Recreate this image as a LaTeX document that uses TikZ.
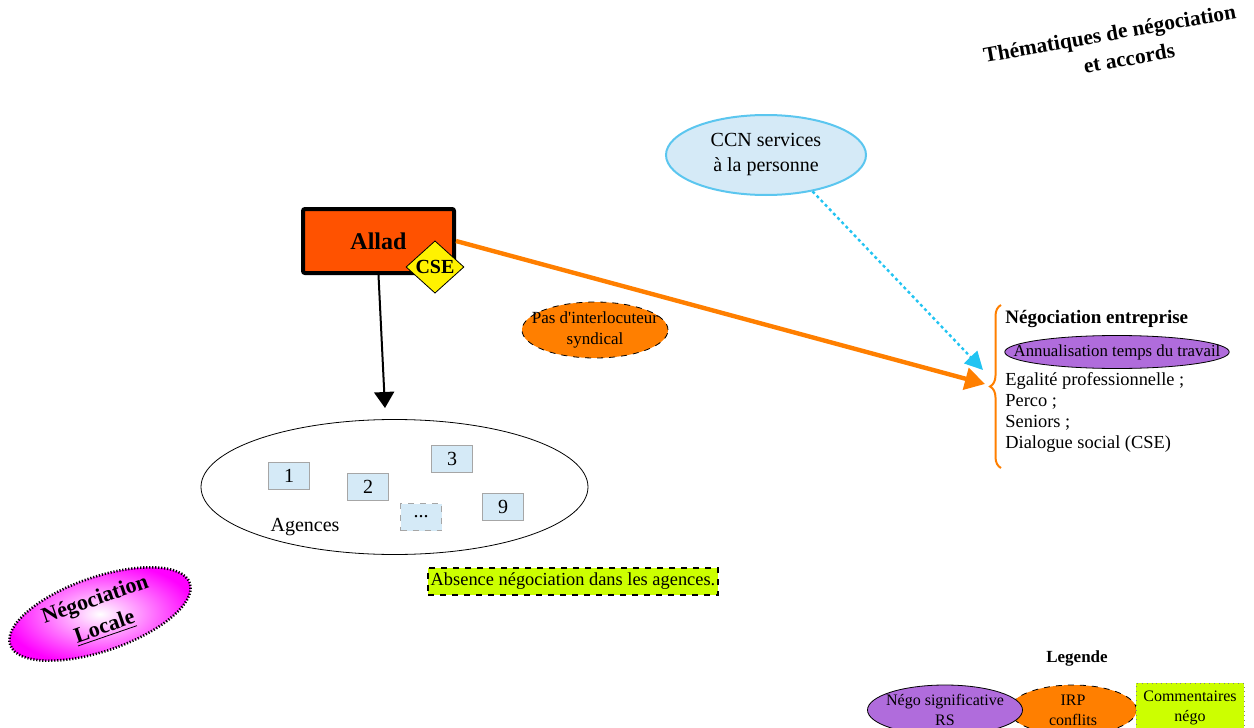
\documentclass[tikz,border=0pt]{standalone}
\usepackage{fontspec}
\setmainfont{Liberation Serif}
\usepackage{xcolor}
\usetikzlibrary{arrows.meta,shapes,positioning,calc,decorations.pathreplacing}

\definecolor{alladred}{HTML}{FF5200}
\definecolor{irporange}{HTML}{FF7F00}
\definecolor{negopurple}{HTML}{B06CDC}
\definecolor{skyfill}{HTML}{D5EAF7}
\definecolor{skyline}{HTML}{5BC6EF}
\definecolor{cyanarrow}{HTML}{22C4F2}
\definecolor{comgreen}{HTML}{CCFF00}

\begin{document}
\begin{tikzpicture}[x=0.5pt,y=-0.5pt,>=Stealth,
  agence/.style={draw=gray!70,fill=skyfill,minimum width=20.5pt,minimum height=13.5pt,inner sep=0pt,font=\fontsize{10}{12}\selectfont},
  nego/.style={ellipse,draw,fill=negopurple,inner sep=0pt,font=\fontsize{8}{10}\selectfont,align=center},
  irp/.style={ellipse,draw,dashed,fill=irporange,inner sep=0pt,font=\fontsize{8}{10}\selectfont,align=center},
  comment/.style={draw,dashed,fill=comgreen,inner sep=1pt,font=\fontsize{8}{10}\selectfont,align=center}]
\useasboundingbox (0,0) rectangle (1254,728);

\node[rotate=10,align=center,font=\fontsize{10.7}{14}\selectfont\bfseries] (titre) at (1112,47) {Thématiques de négociation\\\hspace*{1.4em}et accords};

\node[ellipse,draw=skyline,line width=1pt,fill=skyfill,minimum width=100pt,minimum height=40pt,align=center,font=\fontsize{10}{12.5}\selectfont] (ccn) at (766,155) {CCN services\\à la personne};

\node[draw,line width=2pt,rounded corners=1pt,fill=alladred,minimum width=75.5pt,minimum height=32pt,font=\fontsize{12}{14}\selectfont\bfseries] (allad) at (378.5,241) {Allad};
\node[diamond,draw,fill=yellow,minimum width=29pt,minimum height=25pt,inner sep=0pt,font=\fontsize{10}{12}\selectfont\bfseries] (cse) at (435,267) {CSE};

\node[irp,inner xsep=-6.7pt,inner ysep=0.3pt,minimum width=73pt,minimum height=28pt,font=\fontsize{8.5}{10.5}\selectfont] (pas) at (595,330) {Pas d\textquotesingle interlocuteur\\syndical};

\node[ellipse,draw,fill=white,minimum width=193.5pt,minimum height=67.5pt] (agences) at (394.5,487) {};
\node[agence] (a1) at (289,476) {1};
\node[agence] (a2) at (368,487) {2};
\node[agence] (a3) at (452,459) {3};
\node[agence] (a9) at (503,507) {9};
\node[agence,dashed] (aetc) at (421,517) {...};
\node[font=\fontsize{10}{12}\selectfont] (lblag) at (305,527) {Agences};

\node[comment,line width=1pt,minimum width=145pt,minimum height=13.5pt,font=\fontsize{9.2}{11}\selectfont] (absence) at (573,581) {Absence négociation dans les agences.};

\node[ellipse,rotate=19,draw,line width=1.3pt,dash pattern=on 0.6pt off 0.9pt,inner color=white,outer color=magenta,minimum width=95pt,minimum height=37pt,inner sep=0pt,align=center,font=\fontsize{11}{14.5}\selectfont\bfseries] (locale) at (100,614) {Négociation\\\underline{Locale}};

\draw[irporange,line width=1pt,decorate,decoration={brace,amplitude=5.5pt}] (1001,468) -- (1001,305);
\coordinate (bracetip) at (985,384);
\coordinate (ccntip) at (983,370);
\coordinate (agtip) at (385,408);

\node[anchor=west,inner sep=0pt,font=\fontsize{9.5}{11}\selectfont\bfseries] (entreprise) at (1005,319) {Négociation entreprise};
\node[nego,inner xsep=-12pt,inner ysep=1.5pt,minimum width=111.5pt,minimum height=16.5pt,font=\fontsize{8.4}{10}\selectfont] (annu) at (1117,352) {Annualisation temps du travail};
\node[anchor=north west,inner sep=0pt,align=left,font=\fontsize{9.2}{10.6}\selectfont] (themes) at (1005,372) {Egalité professionnelle ;\\Perco ;\\Seniors ;\\Dialogue social (CSE)};

\draw[->,line width=1pt,>={Triangle[length=8pt,width=10pt]}] (allad.south) -- (agtip);
\draw[->,irporange,line width=2.2pt,>={Triangle[length=10pt,width=11pt]}] (allad.east) -- (bracetip);
\draw[->,cyanarrow,line width=1.2pt,dash pattern=on 1.5pt off 1.5pt,>={Triangle[length=9pt,width=9pt]}] (ccn.-38) -- (ccntip);

\node[font=\fontsize{8.5}{10}\selectfont\bfseries] (legende) at (1077,658) {Legende};
\node[irp,inner ysep=-0.5pt,minimum width=63.5pt,minimum height=25pt] (legirp) at (1073,710) {IRP\\conflits};
\node[nego,inner xsep=-2.3pt,inner ysep=-0.5pt,minimum width=77.5pt,minimum height=25pt] (legnego) at (945,710) {Négo significative\\RS};
\node[comment,draw=gray,dotted,minimum width=54pt,minimum height=25pt] (legcom) at (1190,708) {Commentaires\\négo};
\end{tikzpicture}
\end{document}
